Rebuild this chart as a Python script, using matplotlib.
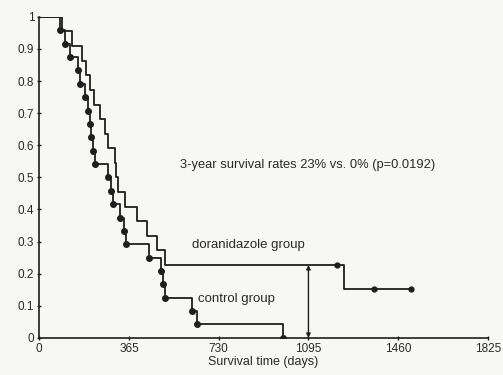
import matplotlib
matplotlib.use("Agg")
import matplotlib.pyplot as plt
import numpy as np

plt.rcParams['font.family'] = ['Liberation Sans', 'DejaVu Sans']

# Doranidazole group: event times (days) and survival after each event
dor_times = [93, 134, 175, 190, 207, 222, 248, 268, 280, 309, 312, 321, 350, 398, 439, 480, 512, 1240]
dor_surv = [0.955, 0.909, 0.864, 0.818, 0.773, 0.727, 0.682, 0.636, 0.591, 0.545, 0.5, 0.455,
            0.409, 0.364, 0.318, 0.273, 0.227, 0.151]
dor_end = 1512
dor_cens_t = [1211, 1362, 1512]
dor_cens_s = [0.227, 0.151, 0.151]

# Control group
ctl_times = [85, 106, 126, 159, 167, 187, 199, 207, 209, 220, 228, 280, 290, 300, 330, 345, 352,
             445, 495, 505, 512, 622, 642, 992]
ctl_surv = [0.958, 0.917, 0.875, 0.833, 0.792, 0.75, 0.708, 0.667, 0.625, 0.583, 0.542, 0.5,
            0.458, 0.417, 0.375, 0.333, 0.292, 0.25, 0.208, 0.167, 0.125, 0.083, 0.042, 0.0]

xticks = [0, 365, 730, 1095, 1460, 1825]
yticks = [0, 0.1, 0.2, 0.3, 0.4, 0.5, 0.6, 0.7, 0.8, 0.9, 1]
ytick_labels = ['0', '0.1', '0.2', '0.3', '0.4', '0.5', '0.6', '0.7', '0.8', '0.9', '1']

bg = '#f7f7f4'
ink = '#1e1e1e'
txt = '#2a2a2a'

fig = plt.figure(figsize=(5.03, 3.75), dpi=100, facecolor=bg)
ax = fig.add_axes([0.078, 0.099, 0.892, 0.856], facecolor=bg)

def step_xy(times, surv, end):
    xs = [0]
    ys = [1.0]
    for t, s in zip(times, surv):
        xs += [t, t]
        ys += [ys[-1], s]
    xs.append(end)
    ys.append(ys[-1])
    return xs, ys

x1, y1 = step_xy(dor_times, dor_surv, dor_end)
ax.plot(x1, y1, color=ink, lw=1.3)
ax.plot(dor_cens_t, dor_cens_s, 'o', color=ink, ms=3.5)

x2, y2 = step_xy(ctl_times, ctl_surv, ctl_times[-1])
ax.plot(x2, y2, color=ink, lw=1.3)
ax.plot(ctl_times, ctl_surv, 'o', color=ink, ms=4)

ax.annotate('', xy=(1095, 0.227), xytext=(1095, 0.0),
            arrowprops=dict(arrowstyle='<|-|>', color=ink, lw=1.0, mutation_scale=6,
                            shrinkA=0, shrinkB=0))

ax.text(573, 0.54, '3-year survival rates 23% vs. 0% (p=0.0192)', fontsize=9.3, color=txt,
        va='center', ha='left')
ax.text(622, 0.29, 'doranidazole group', fontsize=9.5, color=txt, va='center', ha='left')
ax.text(646, 0.12, 'control group', fontsize=9.5, color=txt, va='center', ha='left')

ax.set_xlim(0, 1825)
ax.set_ylim(0, 1)
ax.set_xticks(xticks)
ax.set_xticklabels([str(v) for v in xticks])
ax.set_yticks(yticks)
ax.set_yticklabels(ytick_labels)
ax.tick_params(labelsize=8.5, colors=ink, labelcolor=txt, length=3, direction='inout', width=1,
               pad=2)
for s in ['top', 'right']:
    ax.spines[s].set_visible(False)
for s in ['left', 'bottom']:
    ax.spines[s].set_color(ink)
    ax.spines[s].set_linewidth(1.2)
ax.set_xlabel('Survival time (days)', fontsize=9, color=txt, labelpad=1)

fig.savefig('out.png', dpi=100, facecolor=bg)
